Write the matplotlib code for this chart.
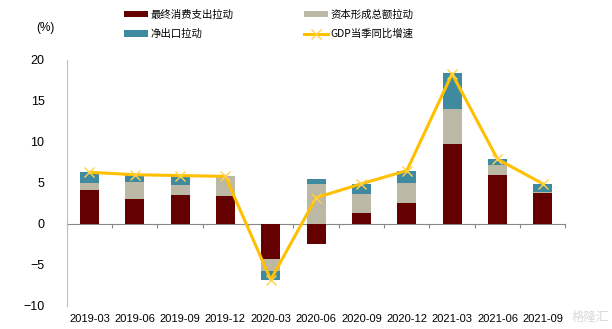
import matplotlib

matplotlib.use("Agg")
import matplotlib.pyplot as plt
import numpy as np

plt.rcParams["font.family"] = ["Liberation Sans Narrow", "Liberation Sans", "Noto Sans CJK SC"]

quarters = ["2019-03", "2019-06", "2019-09", "2019-12", "2020-03", "2020-06",
            "2020-09", "2020-12", "2021-03", "2021-06", "2021-09"]
consumption = [4.1, 3.05, 3.55, 3.35, -4.3, -2.4, 1.35, 2.55, 9.7, 6.0, 3.8]
capital = [0.9, 2.12, 1.23, 2.45, -1.45, 4.9, 2.25, 2.5, 4.3, 1.15, 0.05]
net_export = [1.3, 0.74, 1.02, 0.05, -1.05, 0.6, 1.3, 1.45, 4.4, 0.8, 1.05]
gdp = [6.3, 6.0, 5.9, 5.8, -6.8, 3.2, 4.9, 6.5, 18.3, 7.9, 4.9]

names = ["最终消费支出拉动", "资本形成总额拉动", "净出口拉动", "GDP当季同比增速"]
colors = {"cons": "#650000", "cap": "#BBB8A6", "net": "#3F8A9F", "gdp": "#FFC000"}
cjk = ["Noto Sans CJK SC", "DejaVu Sans"]

fig = plt.figure(figsize=(6.12, 3.29), dpi=100)
ax = fig.add_axes([0.109, 0.07, 0.815, 0.748])

x = np.arange(len(quarters))
width = 0.42
pos = np.zeros(len(x))
neg = np.zeros(len(x))
handles = {}
for key, vals in (("cons", consumption), ("cap", capital), ("net", net_export)):
    vals = np.array(vals)
    bottom = np.where(vals >= 0, pos, neg)
    handles[key] = ax.bar(x, vals, width, bottom=bottom, color=colors[key], zorder=2)
    pos = pos + np.clip(vals, 0, None)
    neg = neg + np.clip(vals, None, 0)

(line,) = ax.plot(x, gdp, color=colors["gdp"], lw=2.2, marker="x", ms=7,
                  mew=1.0, mec="#FFD24D", zorder=4)

ax.set_xlim(-0.5, len(x) - 0.5)
ax.set_ylim(-10, 20)
ax.set_yticks(np.arange(-10, 21, 5))
ax.tick_params(axis="y", length=0, labelsize=9, pad=16)
ax.set_xticks(x)
ax.set_xticklabels(quarters, fontsize=8)
ax.tick_params(axis="x", length=0, pad=6)
for side in ("top", "right", "bottom"):
    ax.spines[side].set_visible(False)
ax.spines["left"].set_color("#BFBFBF")

# zero axis with category boundary ticks
zero = ax.secondary_xaxis(10 / 30)
zero.set_xticks(np.arange(len(x) + 1) - 0.5)
zero.set_xticklabels([])
zero.tick_params(length=3, color="#888888", direction="out")
zero.spines["bottom"].set_color("#888888")

fig.text(0.06, 0.915, "(%)", fontsize=8.5, ha="left", va="center")

leg = fig.legend([handles["cons"], handles["net"], handles["cap"], line],
                 [names[0], names[2], names[1], names[3]],
                 ncol=2, loc="upper left", bbox_to_anchor=(0.187, 1.0),
                 frameon=False, prop={"family": cjk, "size": 7.5},
                 handlelength=2.3, handleheight=0.6, handletextpad=0.3,
                 columnspacing=6.7, labelspacing=0.9)

fig.text(0.995, 0.035, "格隆汇", fontsize=9, color="#D8D8D8", ha="right",
         va="center", family=cjk)

fig.savefig("out.png", dpi=100)
